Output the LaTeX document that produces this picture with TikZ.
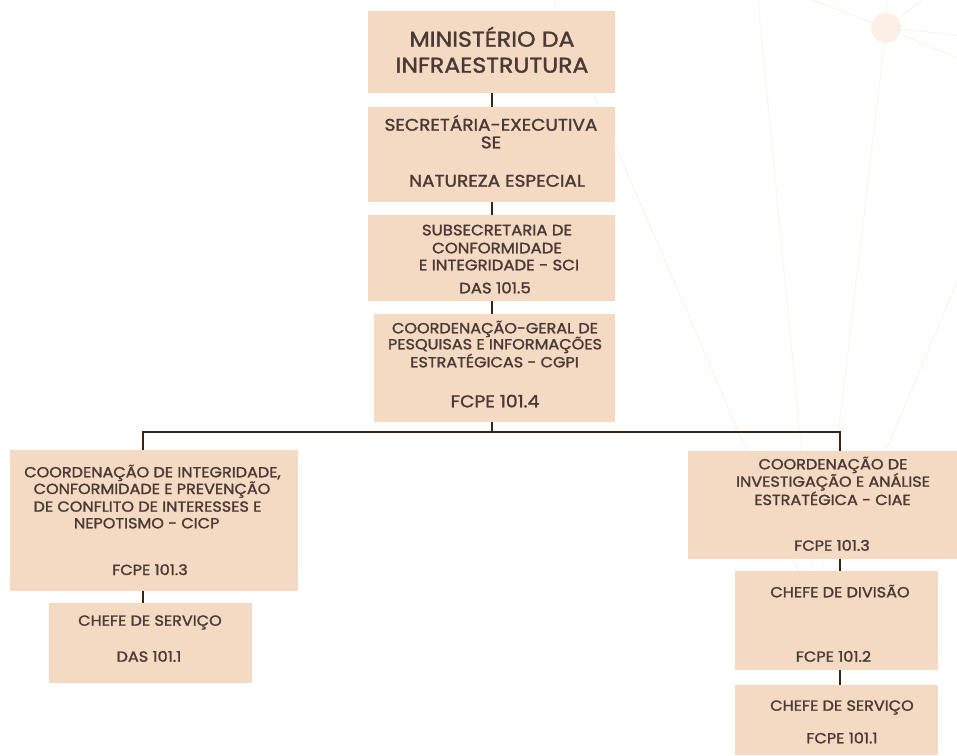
\documentclass[tikz,border=0pt]{standalone}
\usepackage{fontspec}
\setmainfont{Poppins}[FakeBold=1.6,FakeStretch=1.1]
\definecolor{boxfill}{HTML}{F5DAC3}
\definecolor{ink}{HTML}{4A3A35}
\definecolor{wire}{HTML}{3B2416}
\definecolor{faint}{HTML}{FEF4EE}
\definecolor{dot}{HTML}{FCEFE6}
\begin{document}
\begin{tikzpicture}[x=1pt,y=-1pt,
  box/.style={draw=none,fill=boxfill,rectangle,inner sep=0pt,outer sep=0pt},
  txt/.style={inner sep=0pt,anchor=base,text=ink},
  ttl/.style={txt,font=\fontsize{21.5}{21.5}\selectfont},
  sec/.style={txt,font=\fontsize{16.8}{16.8}\selectfont},
  bod/.style={txt,font=\fontsize{14.6}{14.6}\selectfont},
  sml/.style={txt,font=\fontsize{15}{15}\selectfont},
  big/.style={txt,font=\fontsize{17}{17}\selectfont},
  wirel/.style={draw=wire,line width=2pt},
  bg/.style={draw=faint,line width=1.2pt}]
\useasboundingbox (0,0) rectangle (957,755);
% background network
\coordinate (H) at (817,614);
\coordinate (C) at (886,28);
\draw[bg] (H) -- (758,0);
\draw[bg] (H) -- (553,0);
\draw[bg] (H) -- (C);
\draw[bg] (H) -- (957,282);
\draw[bg] (C) -- (813,0);
\draw[bg] (C) -- (887,0);
\draw[bg] (C) -- (922,0);
\draw[bg] (C) -- (957,35);
\draw[bg] (C) -- (957,58);
\fill[dot] (C) circle (15);
% boxes
\node[box,minimum width=247,minimum height=82] (b1) at (491.5,52) {};
\node[box,minimum width=247,minimum height=94.5] (b2) at (491.5,154.25) {};
\node[box,minimum width=247,minimum height=85.5] (b3) at (491.5,257.75) {};
\node[box,minimum width=241,minimum height=107.5] (b4) at (494.5,367.75) {};
\node[box,minimum width=287.5,minimum height=140.5] (cicp) at (153.75,520.25) {};
\node[box,minimum width=202.5,minimum height=79.5] (lserv) at (150.25,642.75) {};
\node[box,minimum width=269,minimum height=108] (ciae) at (822.5,505) {};
\node[box,minimum width=203,minimum height=99] (div) at (836.5,620.5) {};
\node[box,minimum width=203,minimum height=70] (rserv) at (836.5,720) {};
% connectors
\coordinate (j) at (492,431.5);
\coordinate (l) at (143,431.5);
\coordinate (r) at (840,431.5);
\draw[wirel] (b1.south) -- (b2.north);
\draw[wirel] (b2.south) -- (b3.north);
\draw[wirel] (b3.south) -- (b3.south |- b4.north);
\draw[wirel] (b4.south -| j) -- (j);
\draw[wirel] (l |- cicp.north) -- (l) -- (r) -- (r |- ciae.north);
\draw[wirel] (l |- cicp.south) -- (l |- lserv.north);
\draw[wirel] (r |- ciae.south) -- (r |- div.north);
\draw[wirel] (r |- div.south) -- (r |- rserv.north);
% texts
\node[ttl] (t1a) at (492,46.7) {MINISTÉRIO DA};
\node[ttl] (t1b) at (492,72.7) {INFRAESTRUTURA};
\node[sec] (t2a) at (491,130.7) {SECRETÁRIA-EXECUTIVA};
\node[sec] (t2b) at (491,148.3) {SE};
\node[sec] (t2c) at (497,186.7) {NATUREZA ESPECIAL};
\node[sml] (t3a) at (497,235.3) {SUBSECRETARIA DE};
\node[sml] (t3b) at (497,253.3) {CONFORMIDADE};
\node[sml] (t3c) at (499,270.3) {E INTEGRIDADE - SCI};
\node[sml] (t3d) at (495,293.3) {DAS 101.5};
\node[bod] (t4a) at (495,333.3) {COORDENAÇÃO-GERAL DE};
\node[bod] (t4b) at (495,349.3) {PESQUISAS E INFORMAÇÕES};
\node[bod] (t4c) at (494.5,367.3) {ESTRATÉGICAS - CGPI};
\node[big] (t4d) at (495,407.3) {FCPE 101.4};
\node[bod] (t5a) at (152.5,477.3) {COORDENAÇÃO DE INTEGRIDADE,};
\node[bod] (t5b) at (152,494) {CONFORMIDADE E PREVENÇÃO};
\node[bod] (t5c) at (147.5,511.7) {DE CONFLITO DE INTERESSES E};
\node[bod] (t5d) at (146.7,528.3) {NEPOTISMO - CICP};
\node[bod] (t5e) at (150,575) {FCPE 101.3};
\node[bod] (t6a) at (150,625.7) {CHEFE DE SERVIÇO};
\node[bod] (t6b) at (149,661.7) {DAS 101.1};
\node[bod] (t7a) at (833,469.3) {COORDENAÇÃO DE};
\node[bod] (t7b) at (833,486.7) {INVESTIGAÇÃO E ANÁLISE};
\node[bod] (t7c) at (832.5,505) {ESTRATÉGICA - CIAE};
\node[bod] (t7d) at (832,550.7) {FCPE 101.3};
\node[bod] (t8a) at (840,597.3) {CHEFE DE DIVISÃO};
\node[bod] (t8b) at (833.5,661.7) {FCPE 101.2};
\node[bod] (t9a) at (842,710.7) {CHEFE DE SERVIÇO};
\node[bod] (t9b) at (842,743.3) {FCPE 101.1};
\end{tikzpicture}
\end{document}
